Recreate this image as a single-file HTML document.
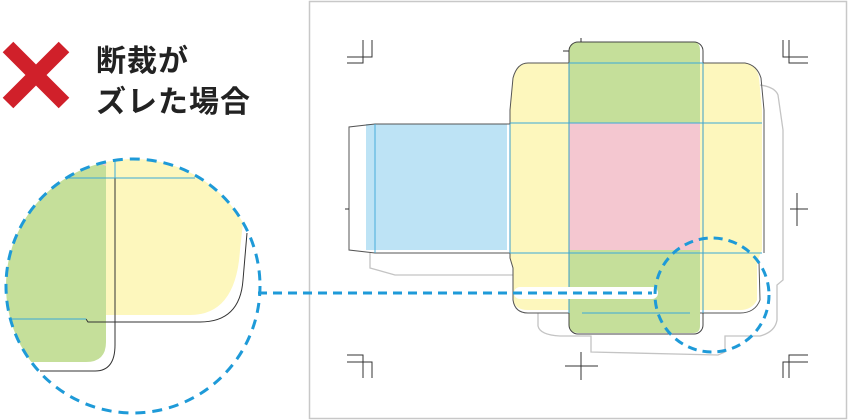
<!DOCTYPE html>
<html><head><meta charset="utf-8"><style>
html,body{margin:0;padding:0;background:#fff;}
svg{display:block}
</style></head><body>
<svg width="848" height="420" viewBox="0 0 848 420" xmlns="http://www.w3.org/2000/svg">
<defs>
<clipPath id="cc"><circle cx="133" cy="286" r="127"/></clipPath>
</defs>
<!-- red X -->
<path d="M8 47 L64 103 M64 47 L8 103" stroke="#d0202a" stroke-width="15" stroke-linecap="butt"/>
<text x="96" y="71" font-family="Liberation Sans, Noto Sans CJK JP, sans-serif" font-weight="bold" font-size="30" letter-spacing="1" fill="#222">断裁が</text>
<text x="96" y="112" font-family="Liberation Sans, Noto Sans CJK JP, sans-serif" font-weight="bold" font-size="30" letter-spacing="1" fill="#222">ズレた場合</text>

<!-- frame -->
<rect x="309.5" y="1.5" width="537" height="417" fill="none" stroke="#c8c8c8" stroke-width="1.5"/>

<!-- gray shifted outline -->
<path d="M370 253 L370 268 L395 275 L515 275 M538 313 L538 326 Q540 335 560 336 L591 336 L591 352 L718 355 L725 352 L725 336 L760 336 Q775 332 777 320 L777 285 L783 280 L783 130 L778 95 Q775 87 760 85" fill="none" stroke="#c4c4c4" stroke-width="1.3"/>

<!-- yellow shape -->
<path d="M528 63 L745 63 Q757 65 759 78 L762 110 L762 250 L757 262 L757 300 Q752 310 740 310 L528 310 Q515 310 513 300 L513 268 L510 258 L510 110 L513 78 Q517 63 528 63 Z" fill="#fdf7bd"/>
<path d="M528 63 L745 63 Q757 65 761 78 L764 110 L764 253 M759 262 L760 300 Q755 313 740 313 L528 313 Q515 313 513 300 L513 268 L510 258 L510 110 L513 78 Q517 63 528 63" fill="none" stroke="#555" stroke-width="1"/>

<!-- blue -->
<rect x="366" y="124" width="141" height="126" fill="#bde3f5"/>
<path d="M510 124 L375 124 L349 127 L349 250 L375 253 L510 253" fill="none" stroke="#555" stroke-width="1"/>

<!-- green -->
<path d="M579 42 L693 42 Q700 42 700 50 L700 326 Q700 333 693 333 L579 333 Q569 333 569 325 L569 50 Q569 42 579 42 Z" fill="#c5df9a"/>
<rect x="569" y="123" width="131" height="127" fill="#f4c7d0"/>
<rect x="569" y="42" width="134" height="292" rx="9" fill="none" stroke="#444" stroke-width="1"/>

<!-- cyan fold lines -->
<g stroke="#3aa8d8" stroke-width="0.9" fill="none">
<line x1="569" y1="63" x2="703" y2="63"/>
<line x1="510" y1="123" x2="762" y2="123"/>
<line x1="510" y1="253" x2="762" y2="253"/>
<line x1="582" y1="313" x2="690" y2="313"/>
<line x1="375" y1="124" x2="375" y2="253"/>
<line x1="510" y1="124" x2="510" y2="253"/>
<line x1="569" y1="63" x2="569" y2="313"/>
<line x1="703" y1="63" x2="703" y2="313"/>
</g>

<!-- crop marks -->
<g stroke="#333" stroke-width="1" fill="none">
<path d="M347 63 L363 63 L363 40 M347 57 L372 57 L372 40"/>
<path d="M347 355 L363 355 L363 378 M347 362 L372 362 L372 378"/>
<path d="M783 40 L783 57 L808 57 M789 40 L789 63 L808 63"/>
<path d="M808 355 L789 355 L789 378 M808 362 L783 362 L783 378"/>
<path d="M565 366 L598 366 M581 352 L581 380"/>
<path d="M790 209 L808 209 M797 193 L797 226"/>
<path d="M345 209 L349 209"/>
<path d="M563 51 L569 51 M581 38 L581 42"/>
</g>

<!-- connector -->
<line x1="520" y1="293" x2="652" y2="293" stroke="#fff" stroke-width="12" stroke-linecap="round"/>
<line x1="258" y1="293" x2="652" y2="293" stroke="#1e9ad8" stroke-width="3" stroke-dasharray="9 6"/>
<circle cx="712" cy="295" r="57" fill="none" stroke="#1e9ad8" stroke-width="3" stroke-dasharray="9 6"/>

<!-- zoomed circle -->
<g clip-path="url(#cc)">
<path d="M0 150 L106 150 L106 342 Q106 362 86 362 L0 362 Z" fill="#c5df9a"/>
<path d="M106 158 L250 158 L240 250 Q236 315 190 315 L106 315 Z" fill="#fdf7bd"/>
<path d="M88 159 L106 159 L106 166 Z" fill="#f4c7d0"/>
<path d="M115 160 L115 345 Q115 371 95 371 L40 371" fill="none" stroke="#333" stroke-width="1"/>
<path d="M86 319 L88 322 L200 322 Q240 322 243 280 L247 233" fill="none" stroke="#333" stroke-width="1"/>
<path d="M65 178 L195 178 M115 160 L115 178 M10 319 L86 319" stroke="#3aa8d8" stroke-width="1" fill="none"/>
</g>
<circle cx="133" cy="286" r="127" fill="none" stroke="#1e9ad8" stroke-width="3" stroke-dasharray="10 7"/>
</svg>
</body></html>
